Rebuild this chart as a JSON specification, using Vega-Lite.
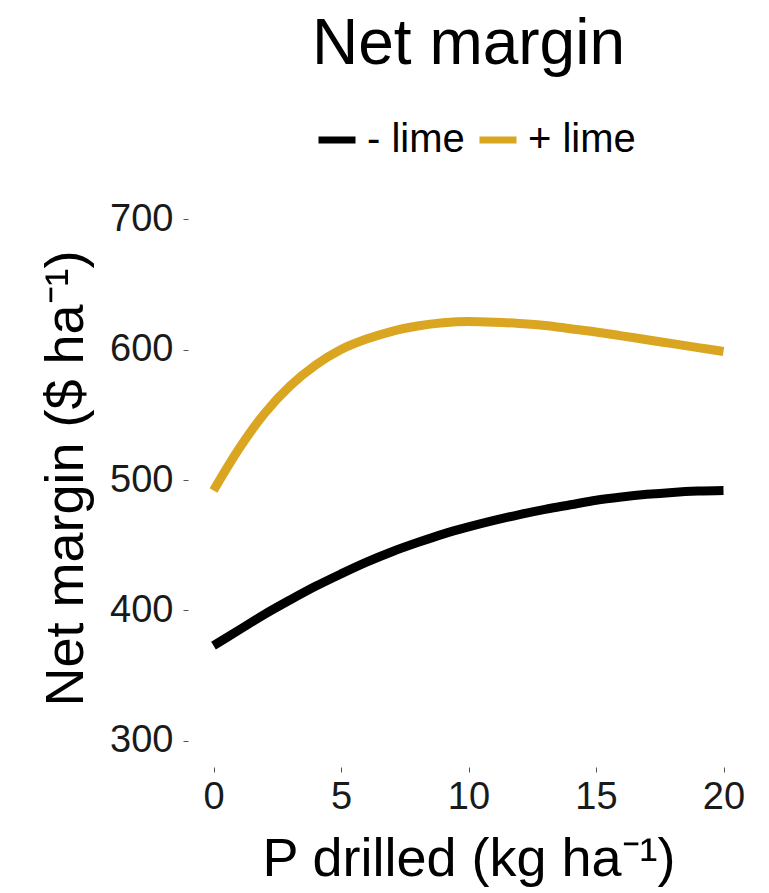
{
  "$schema": "https://vega.github.io/schema/vega-lite/v6.json",
  "autosize": {"type": "none"},
  "width": 561,
  "height": 574,
  "padding": {"left": 188, "top": 193, "right": 20, "bottom": 126},
  "background": "white",
  "title": {
    "text": "Net margin",
    "font": "Liberation Sans",
    "fontSize": 64,
    "fontWeight": "normal",
    "color": "#000000",
    "anchor": "middle",
    "baseline": "alphabetic",
    "offset": 14,
    "dy": 24
  },
  "data": {
    "values": [
      {"p": 0, "nm": 373, "lime": "- lime"},
      {"p": 1, "nm": 385, "lime": "- lime"},
      {"p": 2, "nm": 397, "lime": "- lime"},
      {"p": 3, "nm": 408, "lime": "- lime"},
      {"p": 4, "nm": 418.5, "lime": "- lime"},
      {"p": 5, "nm": 428, "lime": "- lime"},
      {"p": 6, "nm": 437, "lime": "- lime"},
      {"p": 7, "nm": 445, "lime": "- lime"},
      {"p": 8, "nm": 452, "lime": "- lime"},
      {"p": 9, "nm": 458.5, "lime": "- lime"},
      {"p": 10, "nm": 464, "lime": "- lime"},
      {"p": 11, "nm": 469, "lime": "- lime"},
      {"p": 12, "nm": 473.5, "lime": "- lime"},
      {"p": 13, "nm": 477.5, "lime": "- lime"},
      {"p": 14, "nm": 481, "lime": "- lime"},
      {"p": 15, "nm": 484.5, "lime": "- lime"},
      {"p": 16, "nm": 487, "lime": "- lime"},
      {"p": 17, "nm": 489, "lime": "- lime"},
      {"p": 18, "nm": 490.5, "lime": "- lime"},
      {"p": 19, "nm": 491.5, "lime": "- lime"},
      {"p": 20, "nm": 492, "lime": "- lime"},
      {"p": 0, "nm": 492, "lime": "+ lime"},
      {"p": 1, "nm": 524, "lime": "+ lime"},
      {"p": 2, "nm": 551, "lime": "+ lime"},
      {"p": 3, "nm": 572, "lime": "+ lime"},
      {"p": 4, "nm": 588, "lime": "+ lime"},
      {"p": 5, "nm": 600, "lime": "+ lime"},
      {"p": 6, "nm": 608, "lime": "+ lime"},
      {"p": 7, "nm": 614, "lime": "+ lime"},
      {"p": 8, "nm": 618, "lime": "+ lime"},
      {"p": 9, "nm": 620.5, "lime": "+ lime"},
      {"p": 10, "nm": 621.5, "lime": "+ lime"},
      {"p": 11, "nm": 621, "lime": "+ lime"},
      {"p": 12, "nm": 620, "lime": "+ lime"},
      {"p": 13, "nm": 618.5, "lime": "+ lime"},
      {"p": 14, "nm": 616, "lime": "+ lime"},
      {"p": 15, "nm": 613.5, "lime": "+ lime"},
      {"p": 16, "nm": 610.5, "lime": "+ lime"},
      {"p": 17, "nm": 607.5, "lime": "+ lime"},
      {"p": 18, "nm": 604.5, "lime": "+ lime"},
      {"p": 19, "nm": 601.5, "lime": "+ lime"},
      {"p": 20, "nm": 598.5, "lime": "+ lime"}
    ]
  },
  "mark": {"type": "line", "strokeWidth": 9, "interpolate": "monotone", "strokeCap": "butt"},
  "encoding": {
    "x": {
      "field": "p",
      "type": "quantitative",
      "scale": {"domain": [-1, 21], "nice": false, "zero": false},
      "axis": {
        "title": "P drilled (kg ha⁻¹)",
        "values": [0, 5, 10, 15, 20],
        "labelPadding": 6,
        "titleBaseline": "alphabetic",
        "titleY": 108
      }
    },
    "y": {
      "field": "nm",
      "type": "quantitative",
      "scale": {"domain": [280, 720], "nice": false, "zero": false},
      "axis": {
        "title": "Net margin ($ ha⁻¹)",
        "values": [300, 400, 500, 600, 700],
        "labelPadding": 10,
        "titleBaseline": "alphabetic",
        "titleAngle": 270,
        "titleX": -106,
        "titleY": 285
      }
    },
    "color": {
      "field": "lime",
      "type": "nominal",
      "scale": {"domain": ["- lime", "+ lime"], "range": ["#000000", "#DAA520"]},
      "legend": {
        "title": null,
        "orient": "none",
        "direction": "horizontal",
        "legendX": 127,
        "legendY": -75,
        "symbolType": "stroke",
        "symbolSize": 1369,
        "symbolStrokeWidth": 7,
        "labelFont": "Liberation Sans",
        "labelFontSize": 40,
        "labelColor": "#000000",
        "labelOffset": 8,
        "columnPadding": 0,
        "padding": 0
      }
    }
  },
  "config": {
    "view": {"stroke": null},
    "axis": {
      "domain": false,
      "grid": false,
      "ticks": true,
      "tickSize": 5,
      "tickWidth": 1,
      "tickColor": "#555555",
      "labelFont": "Liberation Sans",
      "labelFontSize": 38,
      "labelColor": "#1a1a1a",
      "titleFont": "Liberation Sans",
      "titleFontSize": 54,
      "titleFontWeight": "normal",
      "titleColor": "#000000"
    }
  }
}
